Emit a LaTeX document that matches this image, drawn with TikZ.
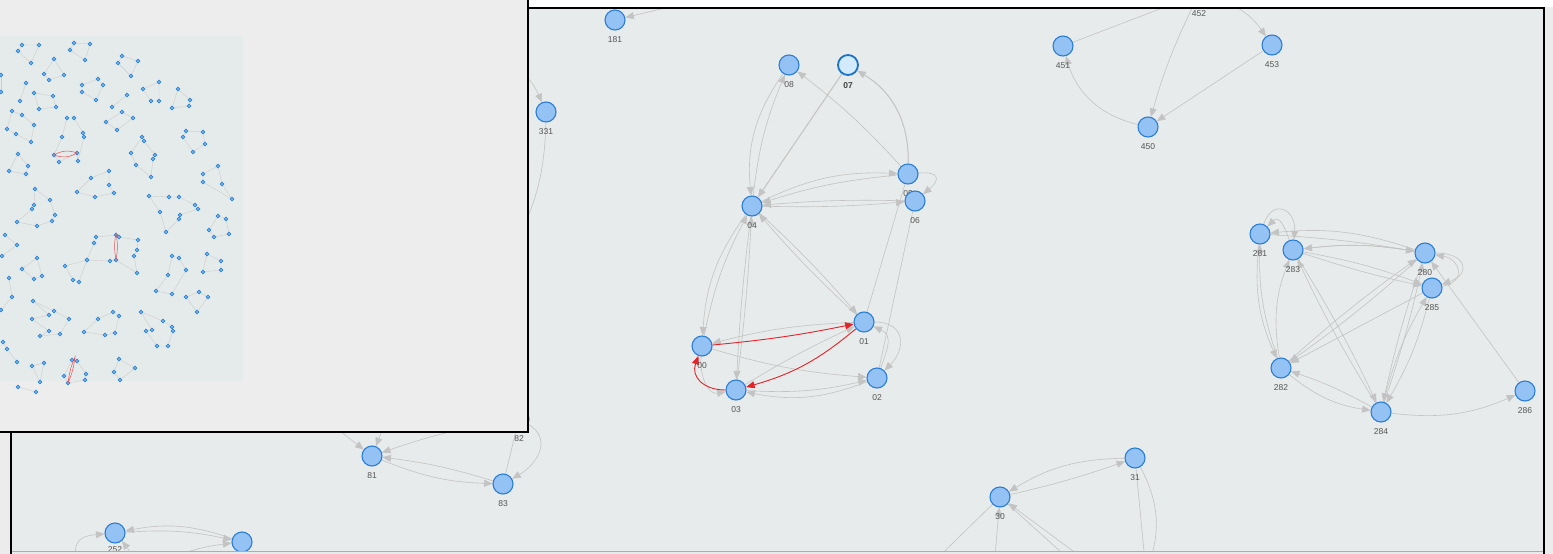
\documentclass[tikz,border=0pt]{standalone}
\usepackage{fontspec}
\newfontfamily\lblfont{Liberation Sans}
\usetikzlibrary{arrows.meta}

\definecolor{pagebg}{HTML}{ECECEC}
\definecolor{panelbg}{HTML}{E7EBEB}
\definecolor{insetbg}{HTML}{EDEDED}
\definecolor{minibg}{HTML}{E5EAEA}
\definecolor{nodefill}{HTML}{95C2F5}
\definecolor{nodeline}{HTML}{2B7ED6}
\definecolor{selfill}{HTML}{D2EAFC}
\definecolor{selline}{HTML}{1B72C8}
\definecolor{edgegray}{HTML}{C3C3C3}
\definecolor{minigray}{HTML}{CDCDCD}
\definecolor{hotred}{HTML}{E2242B}
\definecolor{lblgray}{HTML}{555555}
\definecolor{dotline}{HTML}{2C86D6}
\definecolor{dotfill}{HTML}{7DB6EE}
\definecolor{baseblue}{HTML}{8DB4DC}

\pgfdeclarelayer{back}
\pgfdeclarelayer{edgelayer}
\pgfsetlayers{back,edgelayer,main}

\begin{document}
\begin{tikzpicture}[x=1pt, y=1pt, >={Triangle[length=8.5pt,width=7pt]},
	vnode/.style={circle, draw=nodeline, fill=nodefill, line width=1.1pt, minimum size=20pt, inner sep=0pt},
	selnode/.style={vnode, draw=selline, fill=selfill, line width=1.8pt},
	lbl/.style={font=\lblfont\fontsize{8.5}{10}\selectfont, text=lblgray, inner sep=1pt, yshift=-5pt},
	lblb/.style={lbl, font=\lblfont\bfseries\fontsize{8.5}{10}\selectfont, text=black!75},
	gedge/.style={->, color=edgegray, line width=0.6pt},
	hot/.style={color=hotred, line width=0.9pt},
	miniedge/.style={draw=minigray, line width=0.4pt, mark=*, mark size=1.9pt, mark options={draw=dotline, fill=dotfill, line width=0.8pt}},
	minired/.style={draw=hotred!80, line width=0.5pt}]

\useasboundingbox (0,0) rectangle (1553,-554);
\begin{pgfonlayer}{back}
\fill[pagebg] (0,0) rectangle (1553,-554);
\fill[white] (528,0) rectangle (1553,-7);
\fill[panelbg] (11,-8) rectangle (1544,-554);
\end{pgfonlayer}

% ---- main graph panel ----
\begin{scope}
\clip (12,-9) rectangle (1543,-550);

% cluster 0x
\node[vnode, label={[lbl]below:181}] (n181) at (615,-20) {};
\node[vnode, label={[lbl]below:331}] (n331) at (546,-112) {};
\node[vnode, label={[lbl]below:08}] (n08) at (789,-65) {};
\node[selnode, label={[lblb]below:07}] (n07) at (848,-65) {};
\node[vnode, label={[lbl]below:05}] (n05) at (908,-174) {};
\node[vnode, label={[lbl]below:06}] (n06) at (915,-201) {};
\node[vnode, label={[lbl]below:04}] (n04) at (752,-206) {};
\node[vnode, label={[lbl]below:01}] (n01) at (864,-322) {};
\node[vnode, label={[lbl]below:00}] (n00) at (702,-346) {};
\node[vnode, label={[lbl]below:03}] (n03) at (736,-390) {};
\node[vnode, label={[lbl]below:02}] (n02) at (877,-378) {};

% cluster 45x
\node[vnode, label={[lbl]below:451}] (n451) at (1063,-46) {};
\node[vnode, label={[lbl]below:452}] (n452) at (1199,6) {};
\node[vnode, label={[lbl]below:453}] (n453) at (1272,-45) {};
\node[vnode, label={[lbl]below:450}] (n450) at (1148,-127) {};

% cluster 28x
\node[vnode, label={[lbl]below:281}] (n281) at (1260,-234) {};
\node[vnode, label={[lbl]below:283}] (n283) at (1293,-250) {};
\node[vnode, label={[lbl]below:280}] (n280) at (1425,-253) {};
\node[vnode, label={[lbl]below:285}] (n285) at (1432,-288) {};
\node[vnode, label={[lbl]below:282}] (n282) at (1281,-368) {};
\node[vnode, label={[lbl]below:284}] (n284) at (1381,-412) {};
\node[vnode, label={[lbl]below:286}] (n286) at (1525,-391) {};

% clusters 8x, 3x, 25x
\node[vnode, label={[lbl]below:82}] (n82) at (519,-419) {};
\node[vnode, label={[lbl]below:81}] (n81) at (372,-456) {};
\node[vnode, label={[lbl]below:83}] (n83) at (503,-484) {};
\node[vnode, label={[lbl]below:30}] (n30) at (1000,-497) {};
\node[vnode, label={[lbl]below:31}] (n31) at (1135,-458) {};
\node[vnode, label={[lbl,yshift=3pt]below:252}] (n252) at (115,-533) {};
\node[vnode] (n253) at (242,-542) {};

% ends of edges whose nodes lie outside the view
\coordinate (c182) at (690,-2);
\coordinate (c330) at (492,-52);
\coordinate (c332) at (505,-260);
\coordinate (c80) at (300,-400);
\coordinate (c84) at (392,-405);
\coordinate (c30a) at (915,-580);
\coordinate (c30b) at (993,-580);
\coordinate (c30c) at (1092,-580);
\coordinate (c30d) at (1112,-580);
\coordinate (c32) at (1146,-572);
\coordinate (c250) at (78,-575);
\coordinate (c251) at (140,-575);
\end{scope}

\begin{pgfonlayer}{edgelayer}
\begin{scope}
\clip (12,-9) rectangle (1543,-550);
\path[gedge]
	(n07) edge[line width=1pt] (n04)
	(n05) edge[line width=1pt, bend right=30] (n07)
	(n05) edge[bend right=5] (n08)
	(n08) edge[bend right=20] (n04)
	(n04) edge[bend left=8] (n08)
	(n04) edge[bend left=14] (n05)
	(n05) edge[bend right=6] (n04)
	(n04) edge[bend right=3] (n06)
	(n06) edge[bend right=3] (n04)
	(n05) edge[out=5, in=40, looseness=2.6] (n06)
	(n05) edge[-] (n01)
	(n06) edge[-] (n02)
	(n04) edge[bend left=3] (n01)
	(n01) edge[bend left=3] (n04)
	(n04) edge[bend right=16] (n00)
	(n00) edge[bend left=8] (n04)
	(n04) edge[bend right=2] (n03)
	(n03) edge[bend right=2] (n04)
	(n01) edge[bend right=6] (n00)
	(n03) edge[bend left=3] (n01)
	(n01) edge[out=0, in=45, looseness=1.6] (n02)
	(n02) edge[out=70, in=-25, looseness=1.3] (n01)
	(n00) edge[bend right=6] (n02)
	(n03) edge[bend right=8] (n02)
	(n02) edge[bend left=16] (n03)
	(n00) edge[out=-95, in=190, looseness=1.1] (n03);
\path[gedge, hot]
	(n00) edge[bend right=3] (n01)
	(n01) edge[bend left=12] (n03)
	(n03) edge[out=180, in=250, looseness=1.3] (n00);

\path[gedge]
	(c182) edge (n181)
	(c330) edge[bend left=20] (n331)
	(n331) edge[-, bend left=15] (c332)
	(n451) edge[-] (n452)
	(n452) edge[bend right=5] (n450)
	(n452) edge[bend left=20] (n453)
	(n453) edge (n450)
	(n450) edge[bend left=30] (n451);

\path[gedge]
	(n283) edge[out=110, in=45, looseness=1.6] (n281)
	(n281) edge[out=70, in=85, looseness=2.2] (n283)
	(n280) edge[bend right=12] (n281)
	(n281) edge[bend left=3] (n280)
	(n280) edge[bend right=8] (n283)
	(n283) edge[bend left=8] (n280)
	(n283) edge[bend left=5] (n285)
	(n283) edge[bend right=3] (n285)
	(n281) edge[bend right=15] (n282)
	(n282) edge[bend left=10] (n281)
	(n282) edge[bend left=15] (n283)
	(n283) edge[bend left=3] (n284)
	(n284) edge[bend left=3] (n283)
	(n282) edge[bend left=3] (n280)
	(n280) edge[bend left=3] (n282)
	(n285) edge (n282)
	(n280) edge[bend right=3] (n284)
	(n284) edge[bend right=3] (n280)
	(n285) edge[bend left=8] (n284)
	(n284) edge[bend left=8] (n285)
	(n282) edge[bend right=15] (n284)
	(n284) edge[bend right=5] (n282)
	(n284) edge[bend right=15] (n286)
	(n286) edge (n280)
	(n280) edge[out=0, in=20, looseness=2.5] (n285)
	(n285) edge[out=10, in=-10, looseness=2] (n280);

\path[gedge]
	(c80) edge (n81)
	(c84) edge (n81)
	(n82) edge[bend right=5] (n81)
	(n82) edge[out=-30, in=30, looseness=1.3] (n83)
	(n83) edge[-] (n82)
	(n81) edge[bend right=10] (n83)
	(n83) edge[bend right=5] (n81)
	(n31) edge[bend right=15] (n30)
	(n30) edge[bend right=3] (n31)
	(c30a) edge[-] (n30)
	(c30b) edge (n30)
	(c30c) edge[-] (n30)
	(c30d) edge (n30)
	(n31) edge (c32)
	(n31) edge[-, bend left=25] (c32)
	(n253) edge[bend right=15] (n252)
	(n252) edge[bend left=8] (n253)
	(c250) edge[out=100, in=185, looseness=1.6] (n252)
	(c251) edge[bend right=10] (n252)
	(c251) edge[bend left=12] (n253);
\end{scope}
\end{pgfonlayer}

% panel frame
\draw[line width=2pt] (11,-554) -- (11,-8) -- (1544,-8) -- (1544,-554);
\draw[baseblue, line width=1.6pt] (12,-551.5) -- (1543,-551.5);

% ---- overview inset ----
\fill[insetbg] (0,0) rectangle (528,-432);
\fill[minibg] (0,-36) rectangle (243,-381);
\draw[line width=2.6pt] (528,1) -- (528,-432) -- (-1,-432);

\draw[miniedge] plot coordinates {(22,-45) (39,-45) (31,-63) (18,-51)} -- cycle;
\draw[miniedge] plot coordinates {(74,-43) (90,-44) (85,-60) (70,-50)} -- cycle;
\draw[miniedge] plot coordinates {(54,-59) (64,-75) (49,-80) (44,-74)} -- cycle;
\draw[miniedge] plot coordinates {(122,-56) (138,-61) (131,-76) (118,-63)} -- cycle;
\draw[miniedge] plot coordinates {(1,-75) (1,-92)};
\draw[miniedge] plot coordinates {(26,-83) (20,-101)};
\draw[miniedge] plot coordinates {(34,-93) (53,-96) (56,-107) (39,-109)} -- cycle;
\draw[miniedge] plot coordinates {(98,-79) (103,-85) (96,-100) (82,-92) (82,-85)} -- cycle;
\draw[miniedge] plot coordinates {(127,-95) (112,-107)};
\draw[miniedge] plot coordinates {(159,-82) (159,-101) (151,-101) (143,-89)} -- cycle;
\draw[miniedge] plot coordinates {(178,-89) (190,-100) (189,-106) (172,-108)} -- cycle;
\draw[miniedge] plot coordinates {(22,-115) (34,-125) (31,-142) (16,-134) (7,-129) (12,-111)} -- cycle;
\draw[miniedge] plot coordinates {(122,-112) (133,-118) (117,-130) (106,-122)} -- cycle;
\draw[miniedge] plot coordinates {(67,-118) (74,-118) (83,-133) (84,-137) (78,-161) (77,-153) (59,-162) (54,-155) (62,-137)} -- cycle;
\draw[miniedge] plot coordinates {(186,-131) (203,-132) (205,-144) (193,-152) (183,-137)} -- cycle;
\draw[miniedge] plot coordinates {(142,-137) (144,-141) (155,-155) (153,-159) (151,-177) (136,-165) (131,-153)} -- cycle;
\draw[miniedge] plot coordinates {(18,-154) (28,-166) (26,-174) (9,-171)} -- cycle;
\draw[miniedge] plot coordinates {(218,-166) (222,-184) (232,-199) (203,-182) (203,-174)} -- cycle;
\draw[miniedge] plot coordinates {(109,-171) (109,-185) (114,-193) (95,-197) (77,-192) (91,-178)} -- cycle;
\draw[miniedge] plot coordinates {(35,-189) (50,-200) (55,-215) (52,-221) (37,-226) (17,-222) (32,-209) (34,-205)} -- cycle;
\draw[miniedge] plot coordinates {(149,-196) (169,-197) (179,-197) (195,-205) (198,-209) (180,-215) (179,-219) (166,-232) (160,-212)} -- cycle;
\draw[miniedge] plot coordinates {(218,-216) (226,-219) (229,-234) (214,-237) (209,-230)} -- cycle;
\draw[miniedge] plot coordinates {(5,-235) (17,-245) (2,-256)};
\draw[miniedge] plot coordinates {(96,-237) (116,-235) (119,-237) (138,-240) (137,-250) (134,-256) (137,-273) (116,-260) (110,-261) (87,-260) (94,-243)} -- cycle;
\draw[miniedge] plot coordinates {(37,-258) (42,-276) (34,-279) (22,-269)} -- cycle;
\draw[miniedge] plot coordinates {(65,-266) (87,-260) (79,-282) (73,-280)} -- cycle;
\draw[miniedge] plot coordinates {(172,-256) (179,-258) (186,-270) (172,-294) (156,-291) (168,-275)} -- cycle;
\draw[miniedge] plot coordinates {(207,-254) (221,-261) (221,-270) (203,-272)} -- cycle;
\draw[miniedge] plot coordinates {(9,-278) (12,-297) (1,-310)};
\draw[miniedge] plot coordinates {(199,-292) (208,-297) (197,-312) (186,-297)} -- cycle;
\draw[miniedge] plot coordinates {(33,-301) (54,-311) (69,-319) (60,-334) (40,-336) (49,-331) (32,-319) (49,-315)} -- cycle;
\draw[miniedge] plot coordinates {(113,-312) (119,-316) (115,-333) (105,-335) (84,-332) (98,-319)} -- cycle;
\draw[miniedge] plot coordinates {(141,-312) (163,-321) (172,-327) (173,-331) (168,-346) (157,-346) (146,-331) (152,-330)} -- cycle;
\draw[miniedge] plot coordinates {(3,-342) (7,-349) (17,-362)};
\draw[miniedge] plot coordinates {(44,-363) (32,-366) (40,-382)} -- cycle;
\draw[miniedge] plot coordinates {(72,-360) (77,-361) (86,-374) (85,-380) (68,-383) (64,-376)} -- cycle;
\draw[miniedge] plot coordinates {(119,-359) (135,-368) (120,-380) (114,-372)} -- cycle;
\draw[miniedge] plot coordinates {(18,-387) (36,-392)};

% highlighted cycles in the overview
\draw[minired] (54,-155) to[bend left=25] (77,-153) to[bend left=25] (54,-155);
\draw[minired] (116,-233) to[bend left=10] (116,-260) to[bend left=10] (116,-233);
\draw[minired] (68,-383) to[bend left=8] (75,-357) to[bend left=8] (68,-383);

\end{tikzpicture}
\end{document}
